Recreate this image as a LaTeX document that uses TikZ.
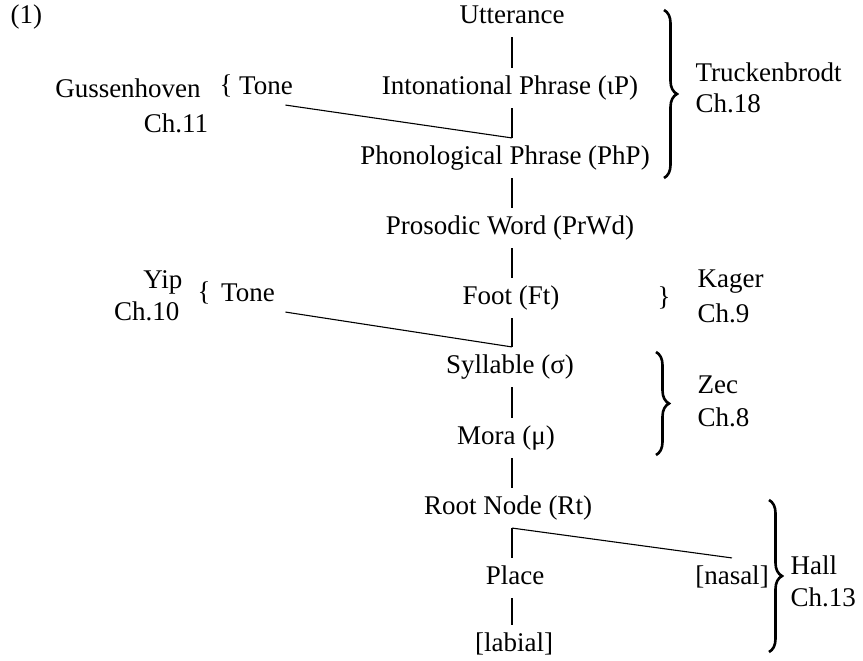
\documentclass[tikz,border=0pt]{standalone}
\usepackage{fontspec}
\setmainfont{Liberation Serif}
\usetikzlibrary{decorations.pathreplacing}

\begin{document}
\begin{tikzpicture}[x = 1pt, y = -1pt, line width = 1.1pt,
    lvl/.style = {font = \fontsize{27}{30}\selectfont, text height = 19pt, text depth = 6pt, inner xsep = 0pt, inner ysep = 7pt},
    lbl/.style = {font = \fontsize{27}{30}\selectfont, inner sep = 0pt},
    bigbrace/.style = {decorate, decoration = {brace, amplitude = 13pt}, line width = 2.6pt}]
  \useasboundingbox (0, 0) rectangle (863, 661);

  \node [lbl, anchor = west] (ex) at (10, 17) {(1)};

  % the prosodic hierarchy
  \node [lvl] (utt) at (512, 17) {Utterance};
  \node [lvl] (ip) at (510, 88) {Intonational Phrase (ιP)};
  \node [lvl] (php) at (505, 158) {Phonological Phrase (PhP)};
  \node [lvl] (prwd) at (510, 228) {Prosodic Word (PrWd)};
  \node [lvl] (ft) at (511, 298) {Foot (Ft)};
  \node [lvl] (syl) at (510, 367) {Syllable (σ)};
  \node [lvl] (mora) at (506, 438) {Mora (μ)};
  \node [lvl] (rt) at (508, 508) {Root Node (Rt)};
  \node [lvl] (place) at (515, 578) {Place};
  \node [lvl] (labial) at (514, 645) {[labial]};
  \node [lvl] (nasal) at (732, 578) {[nasal]};

  \draw (utt.south -| 512, 0) -- (ip.north -| 512, 0);
  \draw (ip.south -| 512, 0) -- (php.north -| 512, 0);
  \draw (php.south -| 512, 0) -- (prwd.north -| 512, 0);
  \draw (prwd.south -| 512, 0) -- (ft.north -| 512, 0);
  \draw (ft.south -| 512, 0) -- (syl.north -| 512, 0);
  \draw (syl.south -| 512, 0) -- (mora.north -| 512, 0);
  \draw (mora.south -| 512, 0) -- (rt.north -| 512, 0);
  \draw (rt.south -| 512, 0) -- (place.north -| 512, 0);
  \draw (place.south -| 512, 0) -- (labial.north -| 512, 0);
  \draw (rt.south -| 512, 0) -- (nasal.north);

  % tone, left side
  \node [lbl] (guss) at (128, 88) {Gussenhoven};
  \node [lbl] (guss-ch) at (176, 123) {Ch.11};
  \node [lbl] (guss-br) at (226, 86) {\{};
  \node [lvl] (tone-a) at (266, 88) {Tone};
  \draw ([xshift = -8pt, yshift = 3pt]tone-a.south east) -- (php.north -| 512, 0);

  \node [lbl, anchor = east] (yip) at (183, 282) {Yip};
  \node [lbl, anchor = east] (yip-ch) at (180, 311) {Ch.10};
  \node [lbl] (yip-br) at (204, 293) {\{};
  \node [lvl] (tone-b) at (248, 295) {Tone};
  \draw ([xshift = 10pt, yshift = 3pt]tone-b.south east) -- (syl.north -| 512, 0);

  % chapters, right side
  \coordinate (tr-top) at (664, 10);
  \coordinate (tr-bot) at (664, 178);
  \draw [bigbrace] (tr-top) -- (tr-bot);
  \node [lbl, anchor = west] (truck) at (695, 72) {Truckenbrodt};
  \node [lbl, anchor = west] (truck-ch) at (695, 103) {Ch.18};

  \node [lbl] (kager-br) at (664, 298) {\}};
  \node [lbl, anchor = west] (kager) at (697, 282) {Kager};
  \node [lbl, anchor = west] (kager-ch) at (697, 313) {Ch.9};

  \coordinate (zec-top) at (656, 352);
  \coordinate (zec-bot) at (656, 455);
  \draw [bigbrace] (zec-top) -- (zec-bot);
  \node [lbl, anchor = west] (zec) at (697, 385) {Zec};
  \node [lbl, anchor = west] (zec-ch) at (697, 417) {Ch.8};

  \coordinate (hall-top) at (769, 500);
  \coordinate (hall-bot) at (769, 652);
  \draw [bigbrace] (hall-top) -- (hall-bot);
  \node [lbl, anchor = west] (hall) at (790, 565) {Hall};
  \node [lbl, anchor = west] (hall-ch) at (790, 597) {Ch.13};
\end{tikzpicture}
\end{document}
